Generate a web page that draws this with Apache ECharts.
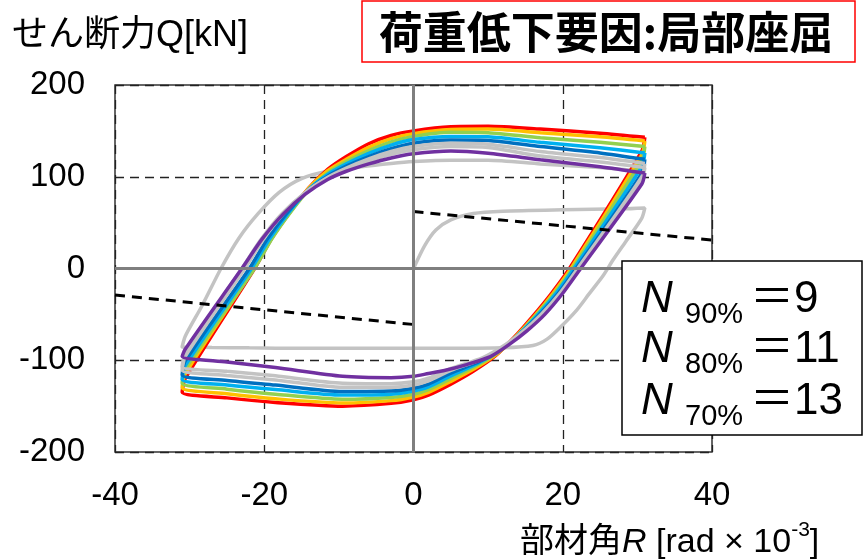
<!DOCTYPE html>
<html>
<head>
<meta charset="utf-8">
<script src="https://cdn.jsdelivr.net/npm/echarts@6/dist/echarts.min.js"></script>
<style>
html,body{margin:0;padding:0;background:#fff;}
#chart{width:865px;height:559px;}
</style>
</head>
<body>
<div id="chart"></div>
<script>
// Axis ticks
const xTicks = [-40, -20, 0, 20, 40];
const yTicks = [-200, -100, 0, 100, 200];

// Initial (grey) cycle: R [rad x 1e-3], Q [kN]
const loopGray1 = [[0,0],[1.5,25],[3,42],[5,53],[8,60],[12,62.5],[20,64],[28,65],[31,66],[30.6,55],[28.5,30],[26.8,10],[25.4,-8],[23.5,-28],[21.9,-45],[19.8,-63],[17.9,-77],[16,-84],[12,-86.5],[5,-87],[-5,-87],[-15,-87],[-22,-86.5],[-27,-86],[-31,-85.5],[-30.6,-74],[-28.3,-40],[-25.8,0],[-23.4,33],[-20.8,60],[-18,83],[-15,98],[-11.5,106],[-7,111],[-3,114.5],[0,116.5],[5,118],[10,118],[17,114],[25,110],[31,106]];

const loopRed = [[31,143],[30.6,128],[20.9,0],[18.5,-27],[16,-52],[13.5,-75],[11,-95],[8,-112],[5,-126],[2,-138],[0,-143],[-3,-147],[-9.5,-150],[-18.5,-146],[-25,-141],[-31,-135],[-30.6,-120],[-21.3,0],[-19,33],[-16.5,62],[-14,88],[-11.5,108],[-9,122],[-6,136],[-3,145],[0,150],[5,154.5],[10,155],[17,152],[25,147.5],[31,143]];
const loopOrange = [[31,139],[30.6,124],[21.1,0],[18.7,-27],[16.2,-52],[13.7,-74],[11.2,-93],[8.2,-109],[5,-123],[2,-135],[0,-140],[-3,-144],[-9.5,-146.5],[-18.5,-142],[-25,-136.5],[-31,-130],[-30.6,-115],[-21.4,0],[-19.1,32],[-16.6,61],[-14.1,87],[-11.6,106],[-9,119],[-6,132],[-3,141.5],[0,147],[5,151.5],[10,152],[17,148],[25,143.5],[31,139]];
const loopGreen = [[31,133],[30.6,118],[21.3,0],[18.9,-27],[16.4,-51],[13.9,-73],[11.4,-91],[8.4,-106],[5,-120],[2,-132],[0,-137],[-3,-140.5],[-9.5,-142.5],[-18.5,-137],[-25,-131.5],[-31,-125],[-30.6,-110],[-21.3,0],[-19,32],[-16.5,61],[-14,86],[-11.5,104],[-9,116.5],[-6,128.5],[-3,138],[0,144],[5,148.5],[10,148],[17,142.5],[25,137.5],[31,133]];
const loopCyan = [[31,126],[30.6,111],[21.5,0],[19.1,-27],[16.6,-51],[14.1,-72],[11.6,-89],[8.6,-103.5],[5,-117],[2,-129],[0,-133.5],[-3,-137],[-9.5,-138],[-18.5,-132],[-25,-127],[-31,-121],[-30.6,-106],[-21.7,0],[-19.3,32],[-16.8,60],[-14.2,85],[-11.6,102],[-9,114],[-6,125.5],[-3,134.5],[0,140.5],[5,144],[10,143.5],[17,137.5],[25,131.5],[31,126]];
const loopBlue = [[31,119],[30.6,104],[21.8,0],[19.4,-27],[16.9,-50],[14.4,-70],[11.9,-87],[8.9,-101],[5,-114],[2,-126],[0,-130.5],[-3,-133.5],[-9.5,-134],[-18.5,-127],[-25,-122],[-31,-116],[-30.6,-101],[-22,0],[-19.6,32],[-17,60],[-14.3,84],[-11.6,100],[-9,111.5],[-6,122],[-3,130.5],[0,136.5],[5,140],[10,139.5],[17,133],[25,126],[31,119]];
const loopGray2 = [[31,114.5],[30.6,100],[22,0],[19.6,-27],[17.1,-50],[14.6,-69],[12.1,-85],[9.1,-99],[5,-111],[2,-122.5],[0,-127],[-3,-129.5],[-9.5,-129.5],[-18.5,-121.5],[-25,-116.5],[-31,-111],[-30.6,-96],[-22.6,0],[-20.1,32],[-17.4,60],[-14.5,83],[-11.6,99],[-9,109.5],[-6,119.5],[-3,127.5],[0,133],[5,136.5],[10,135.5],[17,127.5],[25,121],[31,114.5]];
const loopGray3 = [[31,110],[30.6,96],[22.2,0],[19.8,-27],[17.3,-50],[14.8,-68],[12.3,-83],[9.3,-97],[5,-109],[2,-119.5],[0,-123.5],[-3,-125.5],[-9.5,-125],[-18.5,-117],[-25,-112],[-31,-107],[-30.6,-93],[-23,0],[-20.4,32],[-17.6,60],[-14.6,82],[-11.5,98],[-9,107.5],[-6,117],[-3,124.5],[0,129.5],[5,133],[10,132],[17,122.5],[25,116],[31,110]];
const loopPurple = [[31,104],[30.6,92],[22.4,0],[20,-27],[17.6,-50],[15.2,-68],[12.8,-83],[10.3,-96],[7,-105],[4,-111.5],[2,-114.5],[0,-117.5],[-3,-119],[-9.5,-117.5],[-18.5,-108],[-25,-102],[-31,-96],[-30.6,-88],[-23,0],[-20.3,32],[-17.5,59],[-14.5,81],[-11.5,97],[-9,106],[-6,114],[-3,120.5],[0,125],[5,128],[10,125.5],[17,118.5],[25,111],[31,104]];

// Dashed reference lines
const refPos = [[0,62],[40,31]];
const refNeg = [[-40,-29],[0,-61]];
// Zero axes
const zeroV = [[0,-200],[0,200]];
const zeroH = [[-40,0],[40,0]];

const loops = [
  {d: loopGray1, c: '#c3c3c3'},
  {d: loopRed, c: '#ff0000'},
  {d: loopOrange, c: '#ffc000'},
  {d: loopGreen, c: '#92d050'},
  {d: loopCyan, c: '#00b0f0'},
  {d: loopBlue, c: '#0070c0'},
  {d: loopGray2, c: '#c3c3c3'},
  {d: loopGray3, c: '#c3c3c3'},
  {d: loopPurple, c: '#7030a0'}
];

const series = loops.map((l, i) => ({
  type: 'line', data: l.d, smooth: 0.25, showSymbol: false, z: 2 + i * 0.01,
  lineStyle: {color: l.c, width: 3.5}, silent: true
}));
series.push({type:'line', data: refPos, showSymbol:false, z:4, lineStyle:{color:'#000', width:3, type:[10,7]}});
series.push({type:'line', data: refNeg, showSymbol:false, z:4, lineStyle:{color:'#000', width:3, type:[10,7]}});
series.push({type:'line', data: zeroV, showSymbol:false, z:5, lineStyle:{color:'#7f7f7f', width:3}});
series.push({type:'line', data: zeroH, showSymbol:false, z:5, lineStyle:{color:'#7f7f7f', width:3}});

const fontLatin = '"Liberation Sans", Arial, "Noto Sans CJK JP", sans-serif';
const chart = echarts.init(document.getElementById('chart'), null, {renderer: 'canvas'});
chart.setOption({
  animation: false,
  backgroundColor: '#fff',
  grid: {left: 115, right: 153, top: 85, bottom: 107, show: true, borderColor: '#333', borderWidth: 1.5, containLabel: false},
  xAxis: {
    type: 'value', min: xTicks[0], max: xTicks[xTicks.length-1], interval: xTicks[1]-xTicks[0],
    axisLine: {show: false}, axisTick: {show: false},
    axisLabel: {color: '#000', fontSize: 33, fontFamily: fontLatin, margin: 27},
    splitLine: {show: true, lineStyle: {color: '#222', width: 1.3, type: [9,6]}}
  },
  yAxis: {
    type: 'value', min: yTicks[0], max: yTicks[yTicks.length-1], interval: yTicks[1]-yTicks[0],
    axisLine: {show: false}, axisTick: {show: false},
    axisLabel: {color: '#000', fontSize: 33, fontFamily: fontLatin, margin: 30},
    splitLine: {show: true, lineStyle: {color: '#222', width: 1.3, type: [9,6]}}
  },
  series: series,
  graphic: [
    {type:'rect', z:100, shape:{x:362, y:1, width:493, height:61}, style:{fill:'#fff', stroke:'#ff0000', lineWidth:1.5}},
    {type:'text', z:101, x:606, y:32, style:{text:'荷重低下要因:局部座屈', fontSize:44, fontWeight:'bold', fontFamily:'"Noto Sans CJK JP", sans-serif', fill:'#000', align:'center', verticalAlign:'middle'}},
    {type:'text', z:101, x:12, y:36, style:{text:'せん断力Q[kN]', fontSize:36, fontFamily:fontLatin, fill:'#000', align:'left', verticalAlign:'middle'}},
    {type:'text', z:101, x:520, y:540, style:{
      text:'{a|部材角}{i|R}{a| [rad × 10}{s|-3}{a|]}', align:'left', verticalAlign:'middle',
      rich:{
        a:{fontSize:34, fontFamily:fontLatin, fill:'#000', lineHeight:40, verticalAlign:'bottom'},
        i:{fontSize:34, fontFamily:fontLatin, fontStyle:'italic', fill:'#000', lineHeight:40, verticalAlign:'bottom'},
        s:{fontSize:21, fontFamily:fontLatin, fill:'#000', lineHeight:40, verticalAlign:'top'}
      }}},
    {type:'rect', z:100, shape:{x:622, y:261, width:240, height:174}, style:{fill:'#fff', stroke:'#000', lineWidth:1.5}},
    {type:'text', z:101, x:641, y:300, style:{text:'N', fontSize:44, fontStyle:'italic', fontFamily:fontLatin, fill:'#000', verticalAlign:'middle'}},
    {type:'text', z:101, x:685, y:315, style:{text:'90%', fontSize:29, fontFamily:fontLatin, fill:'#000', verticalAlign:'middle'}},
    {type:'text', z:101, x:750, y:300, style:{text:'＝9', fontSize:44, fontFamily:fontLatin, fill:'#000', verticalAlign:'middle'}},
    {type:'text', z:101, x:641, y:350, style:{text:'N', fontSize:44, fontStyle:'italic', fontFamily:fontLatin, fill:'#000', verticalAlign:'middle'}},
    {type:'text', z:101, x:685, y:365, style:{text:'80%', fontSize:29, fontFamily:fontLatin, fill:'#000', verticalAlign:'middle'}},
    {type:'text', z:101, x:750, y:350, style:{text:'＝11', fontSize:44, fontFamily:fontLatin, fill:'#000', verticalAlign:'middle'}},
    {type:'text', z:101, x:641, y:402, style:{text:'N', fontSize:44, fontStyle:'italic', fontFamily:fontLatin, fill:'#000', verticalAlign:'middle'}},
    {type:'text', z:101, x:685, y:417, style:{text:'70%', fontSize:29, fontFamily:fontLatin, fill:'#000', verticalAlign:'middle'}},
    {type:'text', z:101, x:750, y:402, style:{text:'＝13', fontSize:44, fontFamily:fontLatin, fill:'#000', verticalAlign:'middle'}}
  ]
});
</script>
</body>
</html>
